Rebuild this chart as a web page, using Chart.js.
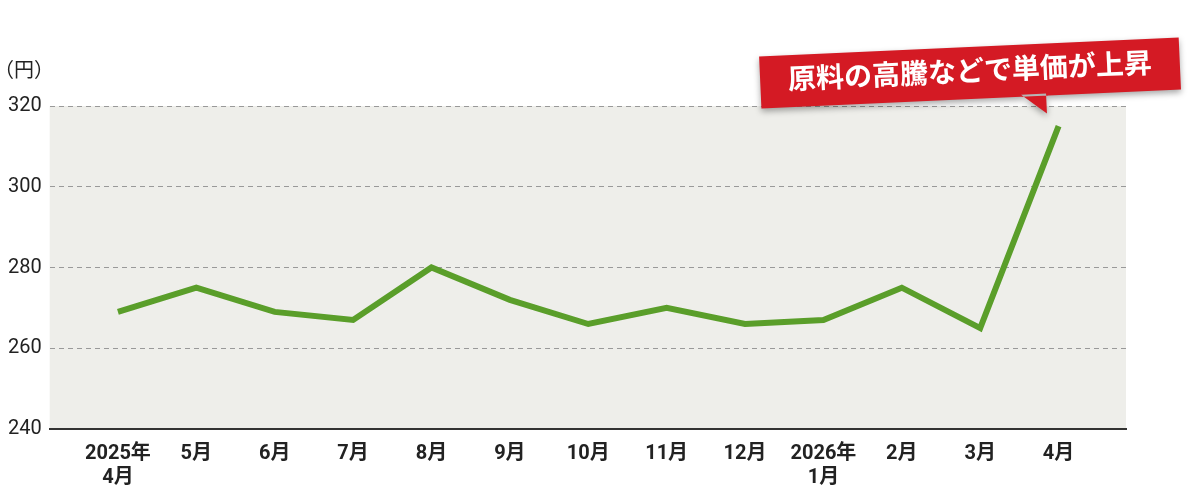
<!DOCTYPE html>
<html><head><meta charset="utf-8">
<script src="https://cdn.jsdelivr.net/npm/chart.js@4"></script>
<style>body{margin:0;background:#fff}#wrap{width:1200px;height:495px}</style>
</head><body><div id="wrap"><canvas id="c"></canvas></div>
<script>
const categories = [["2025年","4月"],"5月","6月","7月","8月","9月","10月","11月","12月",["2026年","1月"],"2月","3月","4月"];
const prices = [269,275,269,267,280,272,266,270,266,267,275,265,315];
const yTicks = [240,260,280,300,320];
const unitLabel = "（円）";
const noteText = "原料の高騰などで単価が上昇";

const font = "'Roboto','Noto Sans CJK JP',sans-serif";

const bgPlugin = {
  id: "bg",
  beforeDraw(chart) {
    const {ctx, chartArea: a} = chart;
    ctx.save();
    ctx.fillStyle = "#eeeeea";
    ctx.fillRect(a.left, a.top, a.right - a.left, a.bottom - a.top);
    ctx.restore();
  },
  afterDraw(chart) {
    const {ctx, chartArea: a} = chart;
    ctx.save();
    ctx.font = "20px " + font;
    ctx.fillStyle = "#222";
    ctx.textBaseline = "middle";
    ctx.fillText(unitLabel, -6, a.top - 34);
    // callout
    ctx.translate(970, 72);
    ctx.rotate(-0.045);
    ctx.shadowColor = "rgba(0,0,0,0.35)";
    ctx.shadowBlur = 6;
    ctx.shadowOffsetY = 3;
    ctx.fillStyle = "#d41a24";
    ctx.beginPath();
    ctx.rect(-210, -25, 420, 52);
    ctx.moveTo(50, 25);
    ctx.lineTo(75, 45);
    ctx.lineTo(75, 25);
    ctx.fill();
    ctx.shadowColor = "transparent";
    ctx.fillStyle = "#fff";
    ctx.font = "bold 28px " + font;
    ctx.textAlign = "center";
    ctx.fillText(noteText, 0, 2);
    ctx.restore();
  }
};

new Chart(document.getElementById("c"), {
  type: "line",
  data: {
    labels: categories,
    datasets: [{
      data: prices.map((v, i) => ({x: i, y: v})),
      borderColor: "#5a9e2a",
      borderWidth: 6,
      pointRadius: 0,
      tension: 0,
      fill: false
    }]
  },
  options: {
    responsive: true,
    maintainAspectRatio: false,
    animation: false,
    layout: {padding: {top: 106, right: 74, left: 0, bottom: 0}},
    plugins: {legend: {display: false}, tooltip: {enabled: false}},
    scales: {
      x: {
        type: "linear",
        min: -0.87, max: 12.86,
        afterBuildTicks(axis) { axis.ticks = categories.map((c, i) => ({value: i})); },
        ticks: {
          callback: (v) => categories[v],
          color: "#222",
          font: {family: font, size: 20, weight: "bold"},
          maxRotation: 0, autoSkip: false, padding: 5
        },
        grid: {display: false},
        border: {display: true, color: "#333", width: 2}
      },
      y: {
        min: 240, max: 320,
        afterBuildTicks(axis) { axis.ticks = yTicks.map(v => ({value: v})); },
        ticks: {color: "#222", font: {family: font, size: 20}, padding: 8},
        grid: {
          color: (c) => c.tick.value === 240 ? "rgba(0,0,0,0)" : "#999",
          lineWidth: 1, drawTicks: false
        },
        border: {display: false, dash: [5, 4]}
      }
    }
  },
  plugins: [bgPlugin]
});
</script></body></html>
